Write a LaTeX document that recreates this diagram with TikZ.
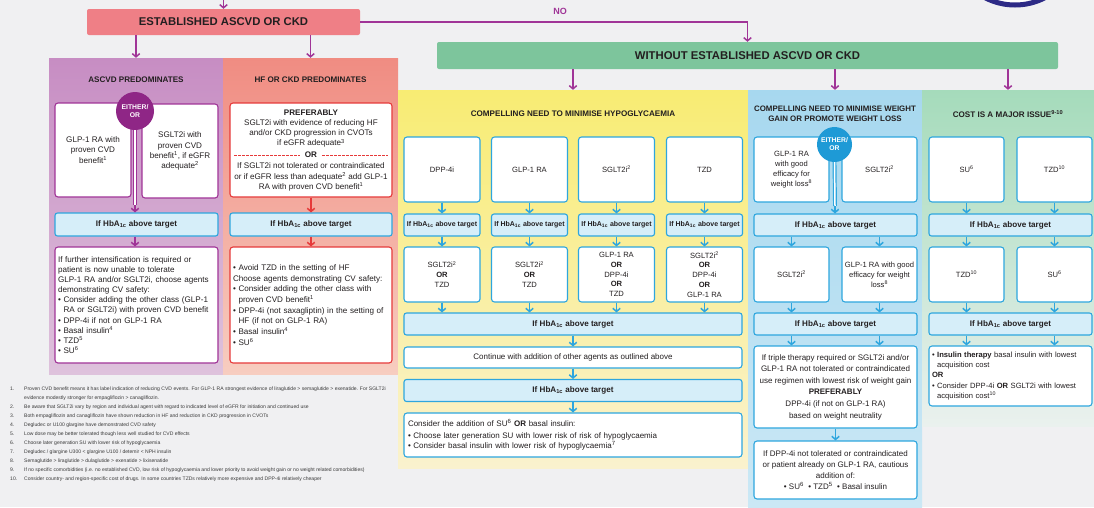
\documentclass[tikz,border=0pt]{standalone}
\usepackage{fontspec}
\setmainfont{Liberation Sans}
\usetikzlibrary{arrows.meta}

% palette
\definecolor{bgc}{HTML}{F0F0F2}
\definecolor{ink}{HTML}{231F20}
\definecolor{estred}{HTML}{EF7F86}
\definecolor{grnbar}{HTML}{7DC59C}
\definecolor{purtop}{HTML}{C78DC3}
\definecolor{purbot}{HTML}{DEC2DC}
\definecolor{orgtop}{HTML}{F08C82}
\definecolor{orgbot}{HTML}{F7CDC0}
\definecolor{yeltop}{HTML}{F8EC73}
\definecolor{yelbot}{HTML}{FAF2CE}
\definecolor{blutop}{HTML}{A7D8EF}
\definecolor{blubot}{HTML}{CBE8F5}
\definecolor{grntop}{HTML}{A5DBBB}
\definecolor{grnbot}{HTML}{EAF1EE}
\definecolor{purln}{HTML}{A03497}
\definecolor{purdark}{HTML}{8F2686}
\definecolor{redln}{HTML}{E63A3A}
\definecolor{bluln}{HTML}{2EA6DE}
\definecolor{blucirc}{HTML}{1E9AD6}
\definecolor{hbfill}{HTML}{D6EEF9}
\definecolor{navy}{HTML}{2D2A86}
\definecolor{notegray}{HTML}{3A3A3A}

% type sizes
\newcommand{\headfnt}{\fontsize{11.3}{13}\selectfont\bfseries}
\newcommand{\titlefnt}{\fontsize{8.1}{10}\selectfont\bfseries}
\newcommand{\bodyfnt}{\fontsize{8.1}{10.1}\selectfont}
\newcommand{\cellfnt}{\fontsize{7.6}{9.8}\selectfont}
\newcommand{\hbfnt}{\fontsize{8.1}{9}\selectfont\bfseries}
\newcommand{\hbsmallfnt}{\fontsize{7}{8}\selectfont\bfseries}
\newcommand{\circfnt}{\fontsize{6.8}{8}\selectfont\bfseries}
\newcommand{\notefnt}{\fontsize{5.05}{9}\selectfont}
\newcommand{\hba}{If HbA\textsubscript{1c} above target}
\newcommand{\bul}{\textbullet\ }
\newcommand{\bulpad}{\hphantom{\textbullet\ }}

\tikzset{
  panel/.style={rectangle, draw=none, inner sep=0pt},
  ptitle/.style={font=\titlefnt, text=ink, align=center, inner sep=0pt},
  wbox/.style={rectangle, rounded corners=3pt, fill=white, line width=1.1pt,
    inner sep=4pt, align=center, font=\bodyfnt, text=ink},
  ybox/.style={wbox, draw=bluln, font=\cellfnt, minimum width=76pt, inner sep=1pt},
  hbbox/.style={rectangle, rounded corners=2.5pt, fill=hbfill, draw=bluln,
    line width=1.1pt, font=\hbfnt, text=ink, inner sep=1pt},
  hbsmall/.style={hbbox, font=\hbsmallfnt, minimum width=76pt, minimum height=22pt},
  orcirc/.style={circle, text=white, font=\circfnt, align=center, inner sep=0pt},
  arr/.style={line width=1.5pt, -{Straight Barb[length=3.2pt,width=7.5pt]}},
  parr/.style={arr, draw=purln},
  rarr/.style={arr, draw=redln},
  barr/.style={arr, draw=bluln},
}

\begin{document}
\begin{tikzpicture}[x=1pt, y=-1pt]
\useasboundingbox (0,0) rectangle (1094,507);
\clip (0,0) rectangle (1094,507);
\fill[bgc] (0,0) rectangle (1094,507);

% partial logo ring at the top edge
\draw[navy, line width=5pt, fill=white] (1015,-60) circle (65);

% ---------- headings ----------
\coordinate (entry) at (223.5,0);
\node[rectangle, rounded corners=2pt, fill=estred, minimum width=273pt, minimum height=26pt,
      font=\headfnt, text=ink] (est) at (223.5,22) {ESTABLISHED ASCVD OR CKD};
\node[rectangle, rounded corners=2pt, fill=grnbar, minimum width=621pt, minimum height=27pt,
      font=\headfnt, text=ink] (gbar) at (747.5,55.5) {WITHOUT ESTABLISHED ASCVD OR CKD};
\node[font=\fontsize{9}{10}\selectfont\bfseries, text=purln] (nolabel) at (560,11) {NO};
\draw[parr] (entry) -- (est.north);
\draw[parr] (est.east) -| (gbar.north);

% ---------- panels ----------
\node[panel, top color=purtop, bottom color=purbot, minimum width=174pt, minimum height=316pt] (pur) at (136,216) {};
\node[panel, top color=orgtop, bottom color=orgbot, minimum width=175pt, minimum height=316pt] (org) at (310.5,216) {};
\node[panel, top color=yeltop, bottom color=yelbot, minimum width=350pt, minimum height=378pt] (yel) at (573,279) {};
\node[panel, top color=blutop, bottom color=blubot, minimum width=174pt, minimum height=417pt] (blu) at (835,298.5) {};
\node[panel, top color=grntop, bottom color=grnbot, minimum width=172pt, minimum height=336pt] (grn) at (1008,258) {};

\draw[parr] (est.south -| pur.north) -- (pur.north);
\draw[parr] (est.south -| org.north) -- (org.north);
\draw[parr] (gbar.south -| yel.north) -- (yel.north);
\draw[parr] (gbar.south -| blu.north) -- (blu.north);
\draw[parr] (gbar.south -| grn.north) -- (grn.north);

\node[ptitle] (tpur) at (136,80) {ASCVD PREDOMINATES};
\node[ptitle] (torg) at (310.5,80) {HF OR CKD PREDOMINATES};
\node[ptitle] (tyel) at (573,114) {COMPELLING NEED TO MINIMISE HYPOGLYCAEMIA};
\node[ptitle, font=\fontsize{7.9}{10}\selectfont\bfseries] (tblu) at (835,114) {COMPELLING NEED TO MINIMISE WEIGHT\\GAIN OR PROMOTE WEIGHT LOSS};
\node[ptitle] (tgrn) at (1008,114) {COST IS A MAJOR ISSUE\textsuperscript{9-10}};

% ---------- ASCVD predominates ----------
\node[wbox, draw=purln, minimum width=76pt, minimum height=94pt, inner sep=1pt] (p1l) at (93,150)
  {GLP-1 RA with\\proven CVD\\benefit\textsuperscript{1}};
\node[wbox, draw=purln, minimum width=76pt, minimum height=94pt, inner sep=1pt] (p1r) at (180,151)
  {SGLT2i with\\proven CVD\\benefit\textsuperscript{1}, if eGFR\\adequate\textsuperscript{2}};
\node[orcirc, fill=purdark, minimum size=38pt] (pcirc) at (135,111) {EITHER/\\OR};
\coordinate (pjoin) at (135,205);
\node[hbbox, minimum width=163pt, minimum height=23pt] (ph1) at (136.5,224.5) {\hba};
\draw[purln, line width=1.2pt, double=white, double distance=1.5pt] (pcirc.south) -- (pjoin);
\draw[parr] (pjoin) -- (pjoin |- ph1.north);
\node[wbox, draw=purln, text width=157pt, align=left, minimum height=116pt, inner sep=3pt] (p2) at (136.5,305)
  {If further intensification is required or\\
   patient is now unable to tolerate\\
   GLP-1 RA and/or SGLT2i, choose agents\\
   demonstrating CV safety:\\
   \bul Consider adding the other class (GLP-1\\
   \bulpad RA or SGLT2i) with proven CVD benefit\\
   \bul DPP-4i if not on GLP-1 RA\\
   \bul Basal insulin\textsuperscript{4}\\
   \bul TZD\textsuperscript{5}\\
   \bul SU\textsuperscript{6}};
\draw[parr] (ph1.south -| pjoin) -- (p2.north -| pjoin);

% ---------- HF or CKD predominates ----------
\node[wbox, draw=redln, minimum width=162pt, minimum height=94pt] (o1) at (311,150) {};
\node[font=\fontsize{8.1}{10.3}\selectfont, text=ink, align=center, inner sep=0pt] (o1a) at (311,128.5)
  {\textbf{PREFERABLY}\\SGLT2i with evidence of reducing HF\\and/or CKD progression in CVOTs\\if eGFR adequate\textsuperscript{3}};
\node[font=\bodyfnt\bfseries, text=ink, inner sep=5pt] (oror) at (311,155) {OR};
\draw[redln, line width=0.8pt, dash pattern=on 2.5pt off 1.5pt]
  ([xshift=5pt]o1.west |- oror.center) -- (oror.west);
\draw[redln, line width=0.8pt, dash pattern=on 2.5pt off 1.5pt]
  (oror.east) -- ([xshift=-5pt]o1.east |- oror.center);
\node[font=\fontsize{8.1}{10.3}\selectfont, text=ink, align=center, inner sep=0pt] (o1b) at (311,177)
  {If SGLT2i not tolerated or contraindicated\\or if eGFR less than adequate\textsuperscript{2} add GLP-1\\RA with proven CVD benefit\textsuperscript{1}};
\node[hbbox, minimum width=162pt, minimum height=23pt] (oh1) at (311,224.5) {\hba};
\node[wbox, draw=redln, text width=156pt, align=left, minimum height=116pt, inner sep=3pt,
      font=\fontsize{8.1}{10.7}\selectfont] (o2) at (311,305)
  {\bul Avoid TZD in the setting of HF\\
   Choose agents demonstrating CV safety:\\
   \bul Consider adding the other class with\\
   \bulpad proven CVD benefit\textsuperscript{1}\\
   \bul DPP-4i (not saxagliptin) in the setting of\\
   \bulpad HF (if not on GLP-1 RA)\\
   \bul Basal insulin\textsuperscript{4}\\
   \bul SU\textsuperscript{6}};
\draw[rarr] (o1) -- (oh1);
\draw[rarr] (oh1) -- (o2);

% ---------- minimise hypoglycaemia ----------
\node[ybox, minimum height=65pt] (y1a) at (442,169.5) {DPP-4i};
\node[ybox, minimum height=65pt] (y2a) at (529.5,169.5) {GLP-1 RA};
\node[ybox, minimum height=65pt] (y3a) at (616.5,169.5) {SGLT2i\textsuperscript{2}};
\node[ybox, minimum height=65pt] (y4a) at (704.5,169.5) {TZD};
\node[hbsmall] (y1h) at (442,225) {\hba};
\node[hbsmall] (y2h) at (529.5,225) {\hba};
\node[hbsmall] (y3h) at (616.5,225) {\hba};
\node[hbsmall] (y4h) at (704.5,225) {\hba};
\node[ybox, minimum height=55pt] (y1b) at (442,274.5) {SGLT2i\textsuperscript{2}\\\textbf{OR}\\TZD};
\node[ybox, minimum height=55pt] (y2b) at (529.5,274.5) {SGLT2i\textsuperscript{2}\\\textbf{OR}\\TZD};
\node[ybox, minimum height=55pt] (y3b) at (616.5,274.5) {GLP-1 RA\\\textbf{OR}\\DPP-4i\\\textbf{OR}\\TZD};
\node[ybox, minimum height=55pt] (y4b) at (704.5,274.5) {SGLT2i\textsuperscript{2}\\\textbf{OR}\\DPP-4i\\\textbf{OR}\\GLP-1 RA};
\node[hbbox, minimum width=338pt, minimum height=22pt] (yh2) at (573,324) {\hba};
\node[wbox, draw=bluln, minimum width=338pt, minimum height=21pt, inner sep=1pt,
      font=\fontsize{8}{10}\selectfont] (ycont) at (573,357.5)
  {Continue with addition of other agents as outlined above};
\node[hbbox, minimum width=338pt, minimum height=22pt] (yh3) at (573,390.5) {\hba};
\node[wbox, draw=bluln, text width=330pt, align=left, minimum height=44pt,
      font=\fontsize{8}{10.5}\selectfont] (ylast) at (573,435)
  {Consider the addition of SU\textsuperscript{6} \textbf{OR} basal insulin:\\[1pt]
   \bul Choose later generation SU with lower risk of risk of hypoglycaemia\\
   \bul Consider basal insulin with lower risk of hypoglycaemia\textsuperscript{7}};
\foreach \c in {1,2,3,4}{
  \draw[barr] (y\c a) -- (y\c h);
  \draw[barr] (y\c h) -- (y\c b);
  \draw[barr] (y\c b.south) -- (yh2.north -| y\c b.south);
}
\draw[barr] (yh2) -- (ycont);
\draw[barr] (ycont) -- (yh3);
\draw[barr] (yh3) -- (ylast);

% ---------- minimise weight gain ----------
\node[ybox, minimum width=75pt, minimum height=65pt] (b1a) at (791.5,169.5)
  {GLP-1 RA\\with good\\efficacy for\\weight loss\textsuperscript{8}};
\node[ybox, minimum width=75pt, minimum height=65pt] (b1b) at (879.5,169.5) {SGLT2i\textsuperscript{2}};
\node[orcirc, fill=blucirc, minimum size=35pt] (bcirc) at (834.5,144.5) {EITHER/\\OR};
\coordinate (bjoin) at (835,206);
\node[hbbox, minimum width=163pt, minimum height=22pt] (bh1) at (835.5,225) {\hba};
\draw[bluln, line width=1.2pt, double=white, double distance=1.5pt] (bcirc.south) -- (bjoin);
\draw[barr] (bjoin) -- (bjoin |- bh1.north);
\node[ybox, minimum width=75pt, minimum height=55pt] (b2a) at (791.5,274.5) {SGLT2i\textsuperscript{2}};
\node[ybox, minimum width=75pt, minimum height=55pt] (b2b) at (879.5,274.5)
  {GLP-1 RA with good\\efficacy for weight\\loss\textsuperscript{8}};
\node[hbbox, minimum width=163pt, minimum height=22pt] (bh2) at (835.5,324) {\hba};
\node[wbox, draw=bluln, minimum width=163pt, minimum height=82pt, inner sep=1pt,
      font=\fontsize{8}{11.6}\selectfont] (bbox1) at (835.5,387)
  {If triple therapy required or SGLT2i and/or\\
   GLP-1 RA not tolerated or contraindicated\\
   use regimen with lowest risk of weight gain\\
   \textbf{PREFERABLY}\\
   DPP-4i (if not on GLP-1 RA)\\
   based on weight neutrality};
\node[wbox, draw=bluln, minimum width=163pt, minimum height=58pt, inner sep=1pt,
      font=\fontsize{8}{11.2}\selectfont] (bbox2) at (835.5,470)
  {If DPP-4i not tolerated or contraindicated\\
   or patient already on GLP-1 RA, cautious\\
   addition of:\\
   \bul SU\textsuperscript{6} \ \bul TZD\textsuperscript{5} \ \bul Basal insulin};
\draw[barr] (bh1.south -| b2a) -- (b2a);
\draw[barr] (bh1.south -| b2b) -- (b2b);
\draw[barr] (b2a) -- (bh2.north -| b2a);
\draw[barr] (b2b) -- (bh2.north -| b2b);
\draw[barr] (bh2.south -| b2a) -- (bbox1.north -| b2a);
\draw[barr] (bh2.south -| b2b) -- (bbox1.north -| b2b);
\draw[barr] (bbox1) -- (bbox2);

% ---------- cost is a major issue ----------
\node[ybox, minimum width=75pt, minimum height=65pt] (g1a) at (966.5,169.5) {SU\textsuperscript{6}};
\node[ybox, minimum width=75pt, minimum height=65pt] (g1b) at (1054.5,169.5) {TZD\textsuperscript{10}};
\node[hbbox, minimum width=163pt, minimum height=22pt] (gh1) at (1010.5,225) {\hba};
\node[ybox, minimum width=75pt, minimum height=55pt] (g2a) at (966.5,274.5) {TZD\textsuperscript{10}};
\node[ybox, minimum width=75pt, minimum height=55pt] (g2b) at (1054.5,274.5) {SU\textsuperscript{6}};
\node[hbbox, minimum width=163pt, minimum height=22pt] (gh2) at (1010.5,324) {\hba};
\node[wbox, draw=bluln, text width=157pt, align=left, minimum height=60pt, inner sep=3pt,
      font=\fontsize{7.6}{10.2}\selectfont] (gbox) at (1010.5,376)
  {\bul\textbf{Insulin therapy} basal insulin with lowest\\
   \bulpad acquisition cost\\
   \textbf{OR}\\
   \bul Consider DPP-4i \textbf{OR} SGLT2i with lowest\\
   \bulpad acquisition cost\textsuperscript{10}};
\draw[barr] (g1a) -- (gh1.north -| g1a);
\draw[barr] (g1b) -- (gh1.north -| g1b);
\draw[barr] (gh1.south -| g2a) -- (g2a);
\draw[barr] (gh1.south -| g2b) -- (g2b);
\draw[barr] (g2a) -- (gh2.north -| g2a);
\draw[barr] (g2b) -- (gh2.north -| g2b);
\draw[barr] (gh2.south -| g2a) -- (gbox.north -| g2a);
\draw[barr] (gh2.south -| g2b) -- (gbox.north -| g2b);

% ---------- footnotes ----------
\node[anchor=west, font=\notefnt, text=notegray, align=left, inner sep=0pt] (notes) at (10,434.5)
  {\makebox[14pt][l]{1.}Proven CVD benefit means it has label indication of reducing CVD events. For GLP-1 RA strongest evidence of liraglutide > semaglutide > exenatide. For SGLT2i\\
   \makebox[14pt][l]{}evidence modestly stronger for empagliflozin > canagliflozin.\\
   \makebox[14pt][l]{2.}Be aware that SGLT2i vary by region and individual agent with regard to indicated level of eGFR for initiation and continued use\\
   \makebox[14pt][l]{3.}Both empagliflozin and canagliflozin have shown reduction in HF and reduction in CKD progression in CVOTs\\
   \makebox[14pt][l]{4.}Degludec or U100 glargine have demonstrated CVD safety\\
   \makebox[14pt][l]{5.}Low dose may be better tolerated though less well studied for CVD effects\\
   \makebox[14pt][l]{6.}Choose later generation SU with lower risk of hypoglycaemia\\
   \makebox[14pt][l]{7.}Degludec / glargine U300 < glargine U100 / detemir < NPH insulin\\
   \makebox[14pt][l]{8.}Semaglutide > liraglutide > dulaglutide > exenatide > lixisenatide\\
   \makebox[14pt][l]{9.}If no specific comorbidities (i.e. no established CVD, low risk of hypoglycaemia and lower priority to avoid weight gain or no weight related comorbidities)\\
   \makebox[14pt][l]{10.}Consider country- and region-specific cost of drugs. In some countries TZDs relatively more expensive and DPP-4i relatively cheaper};
\end{tikzpicture}
\end{document}
